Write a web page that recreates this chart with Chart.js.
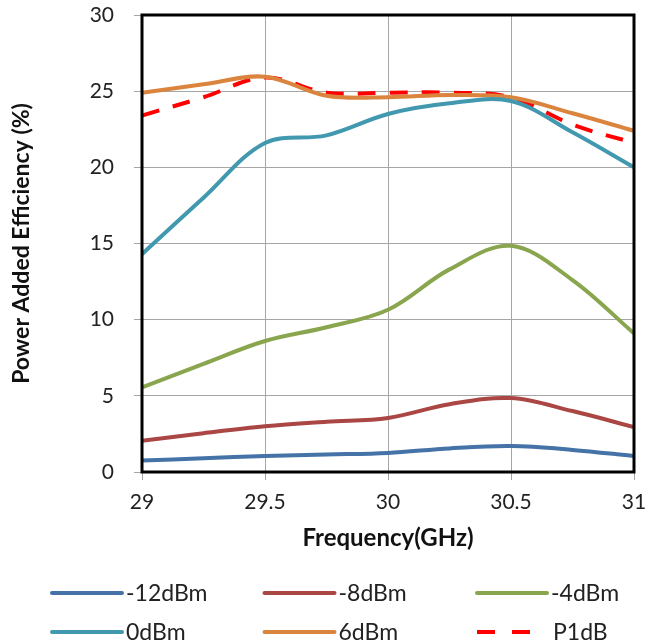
<!DOCTYPE html>
<html>
<head>
<meta charset="utf-8">
<script src="https://cdn.jsdelivr.net/npm/chart.js@4"></script>
<style>
  html, body { margin:0; padding:0; background:#fff; }
  #wrap { width:649px; height:643px; }
</style>
</head>
<body>
<div id="wrap"><canvas id="pae"></canvas></div>
<script>
// Frecuencias (GHz) y PAE (%) por nivel de entrada
const freqs   = [29, 29.25, 29.5, 29.75, 30, 30.25, 30.5, 30.75, 31];
const pae_m12 = [0.75, 0.9, 1.05, 1.15, 1.25, 1.55, 1.7, 1.45, 1.05];
const pae_m8  = [2.05, 2.55, 3.0, 3.3, 3.55, 4.45, 4.85, 4.0, 2.95];
const pae_m4  = [5.55, 7.1, 8.6, 9.5, 10.65, 13.3, 14.85, 12.6, 9.1];
const pae_0   = [14.3, 18.0, 21.6, 22.1, 23.5, 24.2, 24.35, 22.3, 20.0];
const pae_6   = [24.9, 25.45, 25.95, 24.7, 24.6, 24.75, 24.6, 23.55, 22.4];
const pae_p1  = [23.4, 24.6, 25.9, 24.9, 24.9, 24.9, 24.6, 22.8, 21.6];
const seriesNames = ['-12dBm', '-8dBm', '-4dBm', '0dBm', '6dBm', 'P1dB'];
const xTicks = [29, 29.5, 30, 30.5, 31];

const FONT = 'Lato, "Open Sans", sans-serif';
const COLORS = ['#4572A7', '#AA4643', '#89A54E', '#4198AF', '#DB843D', '#FF0000'];

const pts = (arr) => arr.map((v, i) => ({x: freqs[i], y: v}));
const allSeries = [pae_m12, pae_m8, pae_m4, pae_0, pae_6, pae_p1];

const datasets = allSeries.map((arr, i) => ({
  label: seriesNames[i],
  data: pts(arr),
  borderColor: COLORS[i],
  backgroundColor: COLORS[i],
  borderWidth: 4,
  borderDash: i === 5 ? [18, 14] : [],
  pointRadius: 0,
  tension: 0.35,
  fill: false
}));

// marco negro del área de trazado + leyenda en rejilla 3x2
const framePlugin = {
  id: 'frame',
  afterDatasetsDraw(chart){
    const {ctx, chartArea:a} = chart;
    ctx.save();
    ctx.strokeStyle = '#000';
    ctx.lineWidth = 3;
    ctx.strokeRect(a.left, a.top, a.right - a.left, a.bottom - a.top);
    ctx.restore();
  },
  afterDraw(chart){
    const ctx = chart.ctx;
    ctx.save();
    chart.data.datasets.forEach((ds, i) => {
      const col = i % 3, row = Math.floor(i / 3);
      const x0 = 52 + col * 212.5;
      const y = 593 + row * 39;
      ctx.strokeStyle = ds.borderColor;
      ctx.lineWidth = 4;
      ctx.lineCap = ds.borderDash.length ? 'butt' : 'round';
      ctx.setLineDash(ds.borderDash.length ? [18, 17] : []);
      ctx.beginPath();
      ctx.moveTo(x0, y);
      ctx.lineTo(x0 + 70, y);
      ctx.stroke();
      ctx.setLineDash([]);
      ctx.fillStyle = '#222';
      ctx.font = '23px ' + FONT;
      ctx.textBaseline = 'middle';
      ctx.textAlign = 'left';
      ctx.fillText(ds.label, x0 + (ds.borderDash.length ? 76 : 74), y + 1);
    });
    ctx.restore();
  }
};

new Chart(document.getElementById('pae'), {
  type: 'line',
  data: { datasets },
  plugins: [framePlugin],
  options: {
    responsive: true,
    maintainAspectRatio: false,
    animation: false,
    layout: { padding: { left: 0, right: 15, top: 15, bottom: 88 } },
    plugins: { legend: { display: false }, tooltip: { enabled: false } },
    scales: {
      x: {
        type: 'linear', min: 29, max: 31,
        afterBuildTicks: (s) => { s.ticks = xTicks.map(v => ({value: v})); },
        afterFit: (s) => { s.height = 83; s.paddingLeft = 0; s.paddingRight = 0; },
        grid: { color: '#a6a6a6', lineWidth: 1, tickLength: 8 },
        border: { display: false },
        ticks: { color: '#222', font: { family: FONT, size: 21 }, padding: 10, maxRotation: 0,
                 callback: (v) => String(v) },
        title: { display: true, text: 'Frequency(GHz)', color: '#111',
                 font: { family: FONT, size: 24, weight: 'bold' }, padding: { top: 8, bottom: 2 } }
      },
      y: {
        min: 0, max: 30,
        afterFit: (s) => { s.width = 142; s.paddingTop = 0; s.paddingBottom = 0; },
        grid: { color: '#a6a6a6', lineWidth: 1, tickLength: 8 },
        border: { display: false },
        ticks: { stepSize: 5, color: '#222', font: { family: FONT, size: 21 }, padding: 20 },
        title: { display: true, text: 'Power Added Efficiency (%)', color: '#111',
                 font: { family: FONT, size: 23, weight: 'bold' }, padding: { top: 8, bottom: 0 } }
      }
    }
  }
});
</script>
</body>
</html>
